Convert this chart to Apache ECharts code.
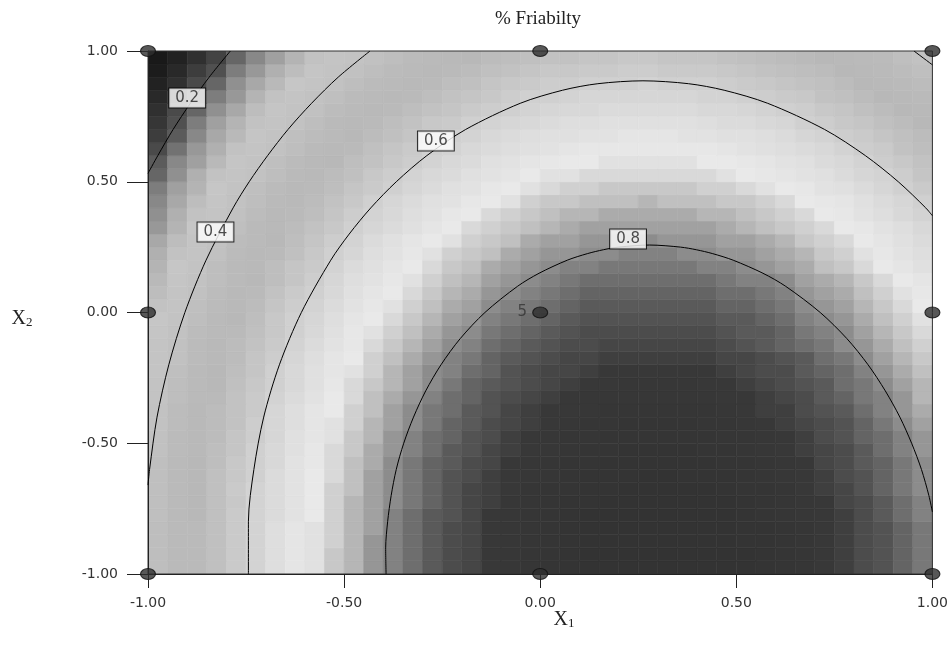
<!DOCTYPE html>
<html>
<head>
<meta charset="utf-8">
<script src="https://cdn.jsdelivr.net/npm/echarts@6/dist/echarts.min.js"></script>
<style>
html,body{margin:0;padding:0;background:#fff;}
#chart{width:951px;height:654px;}
</style>
</head>
<body>
<div id="chart"></div>
<script>
// ---- data ----
const x1Centers = [-0.975,-0.925,-0.875,-0.825,-0.775,-0.725,-0.675,-0.625,-0.575,-0.525,-0.475,-0.425,-0.375,-0.325,-0.275,-0.225,-0.175,-0.125,-0.075,-0.025,0.025,0.075,0.125,0.175,0.225,0.275,0.325,0.375,0.425,0.475,0.525,0.575,0.625,0.675,0.725,0.775,0.825,0.875,0.925,0.975];
const x2Centers = [-0.975,-0.925,-0.875,-0.825,-0.775,-0.725,-0.675,-0.625,-0.575,-0.525,-0.475,-0.425,-0.375,-0.325,-0.275,-0.225,-0.175,-0.125,-0.075,-0.025,0.025,0.075,0.125,0.175,0.225,0.275,0.325,0.375,0.425,0.475,0.525,0.575,0.625,0.675,0.725,0.775,0.825,0.875,0.925,0.975];

// % friability, one row per X2 value (bottom to top), one column per X1 value
const friabilityGrid = [
[0.43,0.47,0.51,0.54,0.58,0.61,0.65,0.68,0.71,0.74,0.76,0.79,0.81,0.83,0.85,0.87,0.88,0.90,0.91,0.92,0.93,0.94,0.95,0.95,0.96,0.96,0.96,0.96,0.96,0.95,0.95,0.94,0.93,0.92,0.90,0.89,0.87,0.86,0.84,0.82],
[0.43,0.47,0.51,0.54,0.58,0.61,0.65,0.68,0.71,0.74,0.76,0.79,0.81,0.83,0.85,0.87,0.88,0.90,0.91,0.92,0.93,0.94,0.95,0.95,0.96,0.96,0.96,0.96,0.96,0.95,0.95,0.94,0.93,0.92,0.90,0.89,0.87,0.86,0.84,0.82],
[0.43,0.47,0.51,0.54,0.58,0.61,0.65,0.68,0.71,0.73,0.76,0.79,0.81,0.83,0.85,0.87,0.88,0.90,0.91,0.92,0.93,0.94,0.95,0.95,0.96,0.96,0.96,0.96,0.96,0.95,0.94,0.94,0.93,0.92,0.90,0.89,0.87,0.86,0.84,0.82],
[0.43,0.47,0.51,0.54,0.58,0.61,0.65,0.68,0.71,0.73,0.76,0.78,0.81,0.83,0.85,0.87,0.88,0.90,0.91,0.92,0.93,0.94,0.95,0.95,0.96,0.96,0.96,0.96,0.95,0.95,0.94,0.94,0.93,0.92,0.90,0.89,0.87,0.86,0.84,0.82],
[0.42,0.46,0.50,0.54,0.58,0.61,0.64,0.67,0.70,0.73,0.76,0.78,0.81,0.83,0.85,0.86,0.88,0.90,0.91,0.92,0.93,0.94,0.95,0.95,0.95,0.96,0.96,0.96,0.95,0.95,0.94,0.93,0.92,0.91,0.90,0.89,0.87,0.85,0.83,0.81],
[0.42,0.46,0.50,0.54,0.57,0.61,0.64,0.67,0.70,0.73,0.76,0.78,0.80,0.82,0.84,0.86,0.88,0.89,0.91,0.92,0.93,0.94,0.94,0.95,0.95,0.95,0.95,0.95,0.95,0.95,0.94,0.93,0.92,0.91,0.90,0.88,0.87,0.85,0.83,0.81],
[0.42,0.46,0.50,0.54,0.58,0.61,0.64,0.67,0.70,0.73,0.75,0.78,0.80,0.82,0.84,0.86,0.88,0.89,0.90,0.92,0.93,0.93,0.94,0.94,0.95,0.95,0.95,0.95,0.95,0.94,0.93,0.93,0.92,0.90,0.89,0.88,0.86,0.84,0.82,0.80],
[0.42,0.46,0.50,0.54,0.57,0.60,0.64,0.67,0.70,0.72,0.75,0.78,0.80,0.82,0.84,0.86,0.87,0.89,0.90,0.91,0.92,0.93,0.94,0.94,0.94,0.95,0.95,0.94,0.94,0.94,0.93,0.92,0.91,0.90,0.89,0.87,0.86,0.84,0.82,0.80],
[0.42,0.46,0.50,0.53,0.57,0.60,0.63,0.67,0.69,0.72,0.75,0.77,0.80,0.82,0.84,0.85,0.87,0.88,0.90,0.91,0.92,0.93,0.93,0.94,0.94,0.94,0.94,0.94,0.94,0.93,0.93,0.92,0.91,0.90,0.88,0.87,0.85,0.84,0.82,0.80],
[0.41,0.45,0.49,0.53,0.56,0.60,0.63,0.66,0.69,0.72,0.74,0.77,0.79,0.81,0.83,0.85,0.86,0.88,0.89,0.90,0.91,0.92,0.93,0.93,0.94,0.94,0.94,0.94,0.93,0.93,0.92,0.91,0.90,0.89,0.88,0.87,0.85,0.83,0.81,0.79],
[0.41,0.45,0.49,0.52,0.56,0.59,0.62,0.66,0.68,0.71,0.74,0.76,0.79,0.81,0.83,0.84,0.86,0.87,0.89,0.90,0.91,0.92,0.92,0.93,0.93,0.93,0.93,0.93,0.93,0.92,0.92,0.91,0.90,0.89,0.87,0.86,0.84,0.83,0.81,0.79],
[0.40,0.44,0.48,0.52,0.55,0.59,0.62,0.65,0.68,0.71,0.73,0.76,0.78,0.80,0.82,0.84,0.85,0.87,0.88,0.89,0.90,0.91,0.92,0.92,0.93,0.93,0.93,0.93,0.92,0.92,0.91,0.90,0.89,0.88,0.87,0.86,0.84,0.82,0.80,0.78],
[0.40,0.44,0.48,0.52,0.55,0.58,0.62,0.65,0.68,0.70,0.73,0.75,0.78,0.80,0.82,0.83,0.85,0.86,0.88,0.89,0.90,0.90,0.91,0.92,0.92,0.92,0.92,0.92,0.92,0.91,0.90,0.89,0.89,0.87,0.86,0.85,0.83,0.81,0.79,0.77],
[0.39,0.43,0.47,0.51,0.55,0.58,0.61,0.64,0.67,0.70,0.72,0.75,0.77,0.79,0.81,0.83,0.84,0.86,0.87,0.88,0.89,0.90,0.91,0.91,0.91,0.91,0.91,0.91,0.91,0.90,0.90,0.89,0.88,0.87,0.85,0.84,0.82,0.81,0.79,0.76],
[0.39,0.43,0.47,0.50,0.54,0.57,0.60,0.63,0.66,0.69,0.72,0.74,0.76,0.78,0.80,0.82,0.84,0.85,0.86,0.87,0.88,0.89,0.90,0.90,0.91,0.91,0.91,0.91,0.90,0.90,0.89,0.88,0.87,0.86,0.85,0.83,0.82,0.80,0.78,0.76],
[0.38,0.42,0.46,0.50,0.53,0.56,0.60,0.63,0.66,0.68,0.71,0.73,0.76,0.78,0.80,0.81,0.83,0.84,0.86,0.87,0.88,0.88,0.89,0.90,0.90,0.90,0.90,0.90,0.90,0.89,0.88,0.87,0.87,0.85,0.84,0.83,0.81,0.79,0.77,0.75],
[0.37,0.41,0.45,0.49,0.52,0.56,0.59,0.62,0.65,0.68,0.70,0.73,0.75,0.77,0.79,0.81,0.82,0.84,0.85,0.86,0.87,0.88,0.88,0.89,0.89,0.89,0.89,0.89,0.89,0.88,0.88,0.87,0.86,0.85,0.83,0.82,0.80,0.78,0.76,0.74],
[0.37,0.41,0.45,0.48,0.52,0.55,0.58,0.61,0.64,0.67,0.69,0.72,0.74,0.76,0.78,0.80,0.81,0.83,0.84,0.85,0.86,0.87,0.87,0.88,0.88,0.88,0.88,0.88,0.88,0.87,0.86,0.85,0.84,0.83,0.82,0.80,0.79,0.77,0.75,0.73],
[0.36,0.40,0.44,0.47,0.51,0.54,0.57,0.60,0.63,0.66,0.69,0.71,0.73,0.75,0.77,0.79,0.80,0.82,0.83,0.84,0.85,0.86,0.87,0.87,0.87,0.87,0.87,0.87,0.87,0.86,0.85,0.85,0.84,0.82,0.81,0.80,0.78,0.76,0.74,0.72],
[0.35,0.39,0.43,0.46,0.50,0.53,0.57,0.60,0.62,0.65,0.68,0.70,0.72,0.74,0.76,0.78,0.79,0.81,0.82,0.83,0.84,0.85,0.86,0.86,0.86,0.86,0.86,0.86,0.86,0.85,0.85,0.84,0.83,0.81,0.80,0.79,0.77,0.75,0.73,0.71],
[0.34,0.38,0.42,0.45,0.49,0.52,0.56,0.59,0.61,0.64,0.67,0.69,0.71,0.73,0.75,0.77,0.78,0.80,0.81,0.82,0.83,0.84,0.85,0.85,0.85,0.85,0.85,0.85,0.85,0.84,0.84,0.83,0.82,0.80,0.79,0.78,0.76,0.74,0.72,0.70],
[0.33,0.37,0.41,0.44,0.48,0.51,0.55,0.58,0.60,0.63,0.66,0.68,0.70,0.72,0.74,0.76,0.77,0.79,0.80,0.81,0.82,0.83,0.84,0.84,0.84,0.84,0.84,0.84,0.84,0.83,0.83,0.82,0.81,0.79,0.78,0.77,0.75,0.73,0.71,0.69],
[0.32,0.36,0.40,0.43,0.47,0.50,0.53,0.56,0.59,0.62,0.65,0.67,0.69,0.71,0.73,0.75,0.76,0.78,0.79,0.80,0.81,0.82,0.83,0.83,0.83,0.83,0.83,0.83,0.83,0.82,0.81,0.81,0.80,0.78,0.77,0.76,0.74,0.72,0.70,0.68],
[0.31,0.35,0.39,0.43,0.46,0.49,0.53,0.56,0.58,0.61,0.64,0.66,0.68,0.70,0.72,0.74,0.75,0.77,0.78,0.79,0.80,0.81,0.81,0.82,0.82,0.82,0.82,0.82,0.81,0.81,0.80,0.79,0.78,0.77,0.75,0.74,0.72,0.70,0.68,0.66],
[0.30,0.34,0.38,0.41,0.45,0.48,0.51,0.54,0.57,0.60,0.62,0.65,0.67,0.69,0.71,0.73,0.74,0.75,0.77,0.78,0.79,0.79,0.80,0.80,0.81,0.81,0.81,0.80,0.80,0.79,0.79,0.78,0.77,0.76,0.74,0.73,0.71,0.69,0.67,0.65],
[0.29,0.33,0.37,0.40,0.44,0.47,0.50,0.53,0.56,0.59,0.61,0.64,0.66,0.68,0.70,0.71,0.73,0.74,0.75,0.77,0.78,0.78,0.79,0.79,0.79,0.80,0.79,0.79,0.79,0.78,0.78,0.77,0.76,0.74,0.73,0.72,0.70,0.68,0.66,0.64],
[0.27,0.31,0.35,0.39,0.42,0.46,0.49,0.52,0.55,0.57,0.60,0.62,0.64,0.66,0.68,0.70,0.72,0.73,0.74,0.75,0.76,0.77,0.78,0.78,0.78,0.78,0.78,0.78,0.78,0.77,0.76,0.75,0.74,0.73,0.72,0.70,0.69,0.67,0.65,0.63],
[0.26,0.30,0.34,0.38,0.41,0.44,0.48,0.51,0.53,0.56,0.59,0.61,0.63,0.65,0.67,0.69,0.70,0.72,0.73,0.74,0.75,0.76,0.76,0.77,0.77,0.77,0.77,0.77,0.76,0.76,0.75,0.74,0.73,0.72,0.70,0.69,0.67,0.65,0.63,0.61],
[0.25,0.29,0.33,0.36,0.40,0.43,0.46,0.49,0.52,0.55,0.57,0.60,0.62,0.64,0.66,0.67,0.69,0.70,0.71,0.73,0.74,0.74,0.75,0.75,0.75,0.76,0.75,0.75,0.75,0.74,0.74,0.73,0.72,0.70,0.69,0.68,0.66,0.64,0.62,0.60],
[0.24,0.28,0.31,0.35,0.39,0.42,0.45,0.48,0.51,0.53,0.56,0.58,0.60,0.62,0.64,0.66,0.67,0.69,0.70,0.71,0.72,0.73,0.73,0.74,0.74,0.74,0.74,0.74,0.73,0.73,0.72,0.71,0.70,0.69,0.67,0.66,0.64,0.62,0.60,0.58],
[0.22,0.26,0.30,0.34,0.37,0.40,0.43,0.46,0.49,0.52,0.54,0.57,0.59,0.61,0.63,0.64,0.66,0.67,0.68,0.70,0.71,0.71,0.72,0.72,0.72,0.72,0.72,0.72,0.72,0.71,0.70,0.69,0.68,0.67,0.66,0.64,0.62,0.61,0.59,0.56],
[0.21,0.25,0.28,0.32,0.36,0.39,0.42,0.45,0.48,0.50,0.53,0.55,0.57,0.59,0.61,0.63,0.64,0.66,0.67,0.68,0.69,0.70,0.70,0.71,0.71,0.71,0.71,0.71,0.70,0.70,0.69,0.68,0.67,0.66,0.64,0.63,0.61,0.59,0.57,0.55],
[0.19,0.23,0.27,0.30,0.34,0.37,0.40,0.43,0.46,0.49,0.51,0.54,0.56,0.58,0.60,0.61,0.63,0.64,0.65,0.66,0.67,0.68,0.69,0.69,0.69,0.69,0.69,0.69,0.69,0.68,0.67,0.66,0.65,0.64,0.63,0.61,0.59,0.58,0.55,0.53],
[0.17,0.21,0.25,0.29,0.32,0.36,0.39,0.42,0.44,0.47,0.50,0.52,0.54,0.56,0.58,0.60,0.61,0.63,0.64,0.65,0.66,0.66,0.67,0.67,0.68,0.68,0.68,0.67,0.67,0.66,0.66,0.65,0.64,0.62,0.61,0.59,0.58,0.56,0.54,0.52],
[0.16,0.20,0.24,0.28,0.31,0.34,0.37,0.40,0.43,0.46,0.48,0.51,0.53,0.55,0.57,0.58,0.60,0.61,0.62,0.63,0.64,0.65,0.65,0.66,0.66,0.66,0.66,0.66,0.65,0.64,0.64,0.63,0.62,0.60,0.59,0.57,0.56,0.54,0.52,0.50],
[0.15,0.19,0.22,0.26,0.29,0.33,0.36,0.39,0.41,0.44,0.46,0.49,0.51,0.53,0.55,0.56,0.58,0.59,0.60,0.61,0.62,0.63,0.63,0.64,0.64,0.64,0.64,0.64,0.63,0.63,0.62,0.61,0.60,0.59,0.57,0.56,0.54,0.52,0.50,0.48],
[0.13,0.17,0.20,0.24,0.27,0.31,0.34,0.37,0.40,0.42,0.45,0.47,0.49,0.51,0.53,0.55,0.56,0.57,0.59,0.60,0.60,0.61,0.62,0.62,0.62,0.62,0.62,0.62,0.61,0.61,0.60,0.59,0.58,0.57,0.55,0.54,0.52,0.50,0.48,0.46],
[0.11,0.15,0.19,0.22,0.26,0.29,0.32,0.35,0.38,0.40,0.43,0.45,0.47,0.49,0.51,0.53,0.54,0.56,0.57,0.58,0.59,0.59,0.60,0.60,0.60,0.61,0.60,0.60,0.60,0.59,0.58,0.57,0.56,0.55,0.54,0.52,0.50,0.48,0.46,0.44],
[0.09,0.13,0.17,0.20,0.24,0.27,0.30,0.33,0.36,0.39,0.41,0.43,0.45,0.47,0.49,0.51,0.52,0.54,0.55,0.56,0.57,0.57,0.58,0.58,0.59,0.59,0.58,0.58,0.58,0.57,0.56,0.55,0.54,0.53,0.52,0.50,0.48,0.47,0.44,0.42],
[0.07,0.11,0.15,0.18,0.22,0.25,0.28,0.31,0.34,0.37,0.39,0.41,0.43,0.45,0.47,0.49,0.50,0.52,0.53,0.54,0.55,0.55,0.56,0.56,0.57,0.57,0.56,0.56,0.56,0.55,0.54,0.53,0.52,0.51,0.50,0.48,0.46,0.45,0.42,0.40]
];

// contour lines, [X1, X2] points
const contour02 = [[-1.0,0.532],[-0.975,0.6],[-0.936,0.7],[-0.892,0.8],[-0.844,0.9],[-0.790,1.0]];
const contour04 = [[-1.0,-0.66],[-0.996,-0.6],[-0.977,-0.4],[-0.947,-0.2],[-0.906,0.0],[-0.852,0.2],[-0.783,0.4],[-0.742,0.5],[-0.695,0.6],[-0.643,0.7],[-0.583,0.8],[-0.515,0.9],[-0.434,1.0]];
const contour04Corner = [[0.953,1.0],[1.0,0.947]];
const contour06 = [[-0.744,-1.0],[-0.744,-0.8],[-0.730,-0.6],[-0.705,-0.4],[-0.665,-0.2],[-0.609,0.0],[-0.534,0.2],[-0.487,0.3],[-0.432,0.4],[-0.367,0.5],[-0.289,0.6],[-0.190,0.7],[-0.051,0.8],[0.057,0.85],[0.147,0.875],[0.262,0.886],[0.378,0.875],[0.469,0.85],[0.580,0.8],[0.725,0.7],[0.829,0.6],[0.913,0.5],[0.983,0.4],[1.0,0.37]];
const contour08 = [[-0.393,-1.0],[-0.394,-0.9],[-0.389,-0.8],[-0.380,-0.7],[-0.367,-0.6],[-0.348,-0.5],[-0.323,-0.4],[-0.292,-0.3],[-0.253,-0.2],[-0.204,-0.1],[-0.141,0.0],[-0.058,0.1],[-0.003,0.15],[0.069,0.2],[0.120,0.225],[0.161,0.24],[0.200,0.25],[0.279,0.258],[0.358,0.25],[0.398,0.24],[0.440,0.225],[0.492,0.2],[0.568,0.15],[0.626,0.1],[0.714,0.0],[0.782,-0.1],[0.836,-0.2],[0.880,-0.3],[0.917,-0.4],[0.947,-0.5],[0.972,-0.6],[0.991,-0.7],[1.0,-0.763]];

const contourLabelText = ['0.2','0.4','0.6','0.8'];
const contourLabelX1 = [-0.90,-0.828,-0.266,0.224];
const contourLabelX2 = [0.82,0.308,0.656,0.281];

const designX1 = [-1,0,1,-1,1,-1,0,1,0];
const designX2 = [1,1,1,0,0,-1,-1,-1,0];
const designReplicates = ['','','','','','','','','5'];

const tickValues = [-1,-0.5,0,0.5,1];
const tickLabels = ['-1.00','-0.50','0.00','0.50','1.00'];

// ---- styling ----
const grayStops = ['#101010','#151515','#1e1e1e','#303030','#505050','#888888','#b0b0b0','#c6c6c6','#c2c2c2','#bbbbbb','#b8b8b8','#c2c2c2','#d0d0d0','#dedede','#e9e9e9','#c0c0c0','#8c8c8c','#5a5a5a','#383838','#333333','#333333'];
const SANS = '"DejaVu Sans", Verdana, sans-serif';
const SERIF = '"Liberation Serif", "Times New Roman", serif';

const heatData = [];
friabilityGrid.forEach(function (row, j) {
  row.forEach(function (f, i) { heatData.push([x1Centers[i], x2Centers[j], f]); });
});
const halfX = (x1Centers[1] - x1Centers[0]) / 2;
const halfY = (x2Centers[1] - x2Centers[0]) / 2;

function tickFmt(v) {
  for (let k = 0; k < tickValues.length; k++) {
    if (Math.abs(tickValues[k] - v) < 1e-9) return tickLabels[k];
  }
  return '';
}

const designData = designX1.map(function (x, k) {
  const item = { value: [x, designX2[k]] };
  if (designReplicates[k]) {
    item.label = { show: true, position: 'left', distance: 5, formatter: designReplicates[k],
      color: '#333', fontSize: 15, fontFamily: SANS };
  }
  return item;
});

const labelData = contourLabelText.map(function (t, k) {
  return { name: t, value: [contourLabelX1[k], contourLabelX2[k]] };
});

function contourSeries(pts) {
  return { type: 'line', data: pts, showSymbol: false, symbol: 'none', smooth: 0.3,
    silent: true, z: 4, lineStyle: { color: '#000', width: 1 }, clip: true };
}

const chart = echarts.init(document.getElementById('chart'), null, { renderer: 'canvas' });
chart.setOption({
  animation: false,
  backgroundColor: '#fff',
  title: {
    text: '% Friabilty', left: 495, top: 10, padding: 0,
    textStyle: { fontFamily: SERIF, fontSize: 19, fontWeight: 'normal', color: '#222' }
  },
  grid: { left: 148, top: 51, width: 785, height: 523, show: true, borderColor: '#333',
    borderWidth: 1, backgroundColor: 'transparent', z: 3, containLabel: false },
  xAxis: {
    type: 'value', min: -1, max: 1, interval: 0.5, z: 3,
    axisLine: { show: true, onZero: false, lineStyle: { color: '#222', width: 1 } },
    axisTick: { show: true, length: 14, lineStyle: { color: '#222', width: 1 } },
    axisLabel: { margin: 22, color: '#333', fontSize: 14, fontFamily: SANS, formatter: tickFmt,
      showMinLabel: true, showMaxLabel: true },
    splitLine: { show: false }
  },
  yAxis: {
    type: 'value', min: -1, max: 1, interval: 0.5, z: 3,
    axisLine: { show: true, onZero: false, lineStyle: { color: '#222', width: 1 } },
    axisTick: { show: true, length: 21, lineStyle: { color: '#222', width: 1 } },
    axisLabel: { margin: 30, color: '#333', fontSize: 14, fontFamily: SANS, formatter: tickFmt,
      showMinLabel: true, showMaxLabel: true },
    splitLine: { show: false }
  },
  visualMap: {
    show: false, type: 'continuous', seriesIndex: 0, dimension: 2, min: 0, max: 1,
    inRange: { color: grayStops }
  },
  graphic: [
    { type: 'text', x: 564, y: 620, z: 10, silent: true,
      style: { text: '{a|X}{b|1}', align: 'center', verticalAlign: 'middle',
        rich: { a: { fontSize: 20, fontFamily: SERIF, fill: '#222' },
                b: { fontSize: 13, fontFamily: SERIF, fill: '#222', verticalAlign: 'bottom' } } } },
    { type: 'text', x: 22, y: 319, z: 10, silent: true,
      style: { text: '{a|X}{b|2}', align: 'center', verticalAlign: 'middle',
        rich: { a: { fontSize: 20, fontFamily: SERIF, fill: '#222' },
                b: { fontSize: 13, fontFamily: SERIF, fill: '#222', verticalAlign: 'bottom' } } } }
  ],
  series: [
    {
      type: 'custom', data: heatData, z: 1, silent: true, clip: true,
      encode: { x: 0, y: 1 },
      renderItem: function (params, api) {
        const x = api.value(0), y = api.value(1);
        const p0 = api.coord([x - halfX, y + halfY]);
        const p1 = api.coord([x + halfX, y - halfY]);
        const c = api.visual('color');
        return { type: 'rect', shape: { x: p0[0], y: p0[1], width: p1[0] - p0[0], height: p1[1] - p0[1] },
          style: { fill: c, stroke: c, lineWidth: 0.6 } };
      }
    },
    contourSeries(contour02),
    contourSeries(contour04),
    contourSeries(contour04Corner),
    contourSeries(contour06),
    contourSeries(contour08),
    {
      type: 'scatter', data: labelData, symbol: 'rect', symbolSize: 1, z: 6, silent: true,
      itemStyle: { color: 'rgba(0,0,0,0)' },
      label: { show: true, position: 'inside', formatter: function (p) { return p.name; },
        backgroundColor: '#fff', borderColor: '#000', borderWidth: 1, padding: [2, 6, 2, 6],
        color: '#222', fontSize: 15, fontFamily: SANS, lineHeight: 15 }
    },
    {
      type: 'scatter', data: designData, symbol: 'circle', symbolSize: [15, 11], z: 7, silent: true,
      clip: false,
      itemStyle: { color: '#2e2e2e', borderColor: '#111', borderWidth: 1 }
    }
  ]
});
</script>
</body>
</html>
